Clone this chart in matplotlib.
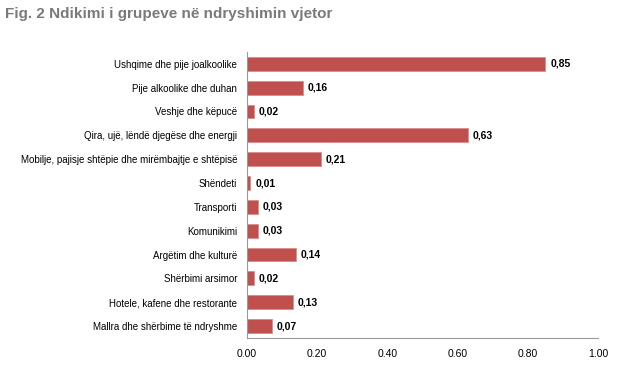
import numpy as np
import matplotlib.pyplot as plt

categories = ["Ushqime dhe pije joalkoolike", "Pije alkoolike dhe duhan", "Veshje dhe këpucë",
              "Qira, ujë, lëndë djegëse dhe energji", "Mobilje, pajisje shtëpie dhe mirëmbajtje e shtëpisë",
              "Shëndeti", "Transporti", "Komunikimi", "Argëtim dhe kulturë", "Shërbimi arsimor",
              "Hotele, kafene dhe restorante", "Mallra dhe shërbime të ndryshme"]
values = [0.85, 0.16, 0.02, 0.63, 0.21, 0.01, 0.03, 0.03, 0.14, 0.02, 0.13, 0.07]
xticks = [0.0, 0.2, 0.4, 0.6, 0.8, 1.0]

plt.rcParams['font.family'] = ['Liberation Sans', 'DejaVu Sans']

fig = plt.figure(figsize=(6.39, 3.76), dpi=100)
ax = fig.add_axes([0.3865, 0.101, 0.5493, 0.761])

y = np.arange(len(categories))
ax.barh(y, values, height=0.58, color='#C0504D', edgecolor='#D98C8A', linewidth=0.6)
for yi, v in zip(y, values):
    ax.annotate(('%.2f' % v).replace('.', ','), (v, yi), xytext=(3.5, 0), textcoords='offset points',
                va='center', ha='left', fontsize=7.5, fontweight='bold', color='black')

ax.set_ylim(len(categories) - 0.5, -0.5)
ax.set_xlim(0, 1.0)
ax.set_xticks(xticks)
ax.set_xticklabels(['%.2f' % t for t in xticks], fontsize=7.5)
ax.set_yticks(y)
ax.set_yticklabels(categories, fontsize=7.0)
ax.tick_params(axis='y', length=0, pad=7)
ax.tick_params(axis='x', length=0, pad=8)
for s in ['top', 'right']:
    ax.spines[s].set_visible(False)
for s in ['left', 'bottom']:
    ax.spines[s].set_color('#9a9a9a')
    ax.spines[s].set_linewidth(0.8)

fig.text(0.008, 0.963, "Fig. 2 Ndikimi i grupeve në ndryshimin vjetor", fontsize=11, fontweight='bold',
         color='#7a7a7a', va='center', ha='left')

fig.savefig('out.png', dpi=100)
